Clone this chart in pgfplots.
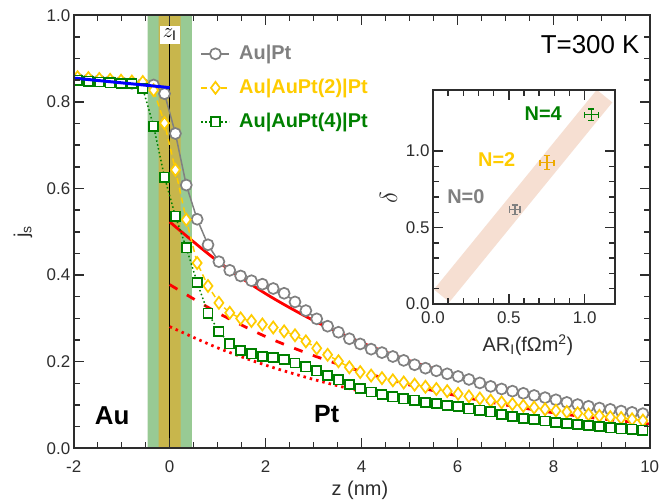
\documentclass[border=0pt]{standalone}
\usepackage{fontspec}
\setmainfont{Liberation Sans}
\usepackage{pgfplots}
\usepackage{pgfplotstable}
\pgfplotsset{compat=1.18}
\usetikzlibrary{calc}

\definecolor{cgrey}{RGB}{128,128,128}
\definecolor{cgold}{RGB}{255,204,0}
\definecolor{cgreen}{RGB}{0,128,0}
\definecolor{corange}{RGB}{238,170,0}
\definecolor{bandgreen}{RGB}{152,202,148}
\definecolor{bandolive}{RGB}{200,182,76}
\definecolor{peach}{RGB}{246,223,210}
\definecolor{axisgrey}{RGB}{45,45,45}

% spin current profiles, one row per atomic layer
\pgfplotstableread{
z      grey   yellow green
-1.920 0.853  0.857  0.850
-1.694 0.851  0.855  0.848
-1.467 0.849  0.853  0.846
-1.241 0.847  0.851  0.844
-1.014 0.845  0.849  0.843
-0.788 0.843  0.847  0.842
-0.561 0.841  0.846  0.831
-0.335 0.839  0.827  0.744
-0.108 0.819  0.751  0.626
0.119  0.727  0.643  0.536
0.345  0.608  0.528  0.463
0.572  0.529  0.428  0.383
0.798  0.470  0.375  0.312
1.025  0.431  0.336  0.270
1.251  0.411  0.313  0.241
1.478  0.398  0.300  0.226
1.704  0.387  0.294  0.218
1.931  0.379  0.286  0.212
2.157  0.369  0.279  0.210
2.384  0.358  0.270  0.205
2.610  0.338  0.261  0.197
2.837  0.318  0.247  0.188
3.063  0.299  0.231  0.179
3.290  0.282  0.216  0.168
3.516  0.268  0.201  0.158
3.743  0.253  0.187  0.147
3.969  0.241  0.176  0.138
4.196  0.229  0.168  0.130
4.422  0.221  0.162  0.124
4.649  0.212  0.157  0.119
4.875  0.203  0.152  0.114
5.102  0.193  0.147  0.111
5.328  0.185  0.142  0.106
5.555  0.179  0.137  0.103
5.781  0.172  0.132  0.099
6.008  0.166  0.126  0.096
6.234  0.159  0.120  0.091
6.461  0.151  0.115  0.088
6.687  0.143  0.110  0.084
6.914  0.137  0.106  0.078
7.140  0.132  0.102  0.073
7.367  0.127  0.098  0.069
7.593  0.122  0.094  0.066
7.820  0.117  0.090  0.063
8.046  0.112  0.087  0.060
8.273  0.106  0.084  0.057
8.499  0.101  0.081  0.055
8.726  0.097  0.078  0.053
8.952  0.093  0.075  0.050
9.179  0.090  0.072  0.047
9.405  0.086  0.070  0.045
9.632  0.083  0.067  0.044
9.858  0.080  0.064  0.042
}\profiles

\begin{document}
\begin{tikzpicture}
\begin{axis}[
    name=main,
    scale only axis,
    width=576bp, height=433bp,
    xmin=-2, xmax=10, ymin=0, ymax=1,
    xtick={-2,0,...,10}, ytick={0,0.2,...,1},
    minor x tick num=3, minor y tick num=3,
    clip marker paths=true,
    /pgf/number format/assume math mode=true,
    yticklabel style={/pgf/number format/fixed, /pgf/number format/fixed zerofill, /pgf/number format/precision=1},
    tick label style={font=\fontsize{17}{17}\selectfont, color=axisgrey},
    xticklabel style={yshift=-9bp},
    axis line style={line width=1.8bp, axisgrey},
    tick style={line width=1.5bp, axisgrey},
    major tick length=10bp, minor tick length=6bp,
    axis on top,
    xlabel={z (nm)}, ylabel={j\textsubscript{s}},
    label style={font=\fontsize{20}{20}\selectfont, color=axisgrey},
    xlabel style={at={(axis description cs:0.497,-0.110)}, anchor=base},
    ylabel style={at={(axis description cs:-0.088,0.5)}, anchor=center},
    legend style={at={(axis description cs:0.215,0.938)}, anchor=north west, draw=none, fill=none,
        font=\bfseries\fontsize{20}{20}\selectfont, row sep=15bp,
        nodes={inner sep=0pt, text height=15bp, text depth=4bp},
        /tikz/every odd column/.append style={column sep=9bp}},
    legend cell align=left,
    legend image code/.code={\draw[mark repeat=2, mark phase=2, #1] plot coordinates {(0bp,0bp) (14bp,0bp) (28bp,0bp)};},
  ]
  % interface region
  \addplot[fill=bandgreen, draw=none, forget plot] coordinates {(-0.46,0) (-0.46,1) (0.46,1) (0.46,0)} \closedcycle;
  \addplot[fill=bandolive, draw=none, forget plot] coordinates {(-0.23,0) (-0.23,1) (0.23,1) (0.23,0)} \closedcycle;
  \addplot[black, line width=1.3bp, forget plot] coordinates {(0,0) (0,1)};

  % exponential fits in Pt
  \addplot[red, line width=2.8bp, smooth, forget plot] coordinates {
    (0,0.523) (1,0.432) (2,0.357) (3,0.295) (4,0.244) (5,0.202) (6,0.167) (7,0.138) (8,0.114) (9,0.094) (10,0.078)};
  \addplot[red, line width=2.8bp, smooth, dash pattern=on 9bp off 11bp, forget plot] coordinates {
    (0,0.378) (1,0.313) (2,0.258) (3,0.214) (4,0.177) (5,0.146) (6,0.121) (7,0.100) (8,0.082) (9,0.068) (10,0.056)};
  \addplot[red, line width=2.8bp, smooth, dash pattern=on 2.5bp off 4bp, forget plot] coordinates {
    (0,0.281) (1,0.232) (2,0.192) (3,0.159) (4,0.131) (5,0.109) (6,0.090) (7,0.074) (8,0.061) (9,0.051) (10,0.042)};

  \addplot[cgrey, line width=1.5bp, mark=*, mark size=5.5bp, mark options={fill=white, line width=1.7bp, solid}]
    table[x=z, y=grey] {\profiles};
  \addlegendentry{\textcolor{cgrey}{Au|Pt}}
  \addplot[cgold, line width=1.5bp, dash pattern=on 6bp off 4bp, mark=diamond*, mark size=6bp, mark options={fill=white, line width=1.7bp, solid}]
    table[x=z, y=yellow] {\profiles};
  \addlegendentry{\textcolor{cgold}{Au|AuPt(2)|Pt}}
  \addplot[cgreen, line width=1.5bp, dash pattern=on 1.5bp off 2.5bp, mark=square*, mark size=4.6bp, mark options={fill=white, line width=1.7bp, solid}]
    table[x=z, y=green] {\profiles};
  \addlegendentry{\textcolor{cgreen}{Au|AuPt(4)|Pt}}

  % fit in Au
  \addplot[blue, line width=3bp, forget plot] coordinates {(-2,0.855) (0,0.833)};

  \node[fill=white, inner sep=3bp, font=\fontsize{20}{20}\selectfont] at (axis cs:0,0.955) {$z_{\mathrm{I}}$};
  \node[font=\bfseries\fontsize{26}{26}\selectfont] at (axis cs:-1.2,0.076) {Au};
  \node[font=\bfseries\fontsize{25}{25}\selectfont] at (axis cs:3.27,0.080) {Pt};
  \node[font=\fontsize{26}{26}\selectfont] at (axis cs:8.76,0.933) {T=300 K};
\end{axis}

\begin{axis}[
    name=inset,
    at={(main.south west)}, xshift=359.3bp, yshift=144.3bp, anchor=south west,
    scale only axis,
    width=182bp, height=214bp,
    xmin=0, xmax=1.2, ymin=0, ymax=1.4,
    xtick={0,0.5,1}, ytick={0,0.5,1},
    minor x tick num=4, minor y tick num=4,
    axis background/.style={fill=white},
    /pgf/number format/assume math mode=true,
    ticklabel style={/pgf/number format/fixed, /pgf/number format/fixed zerofill, /pgf/number format/precision=1},
    tick label style={font=\fontsize{17}{17}\selectfont, color=axisgrey},
    xticklabel style={yshift=-4bp},
    axis line style={line width=1.8bp, axisgrey},
    tick style={line width=1.5bp, axisgrey},
    major tick length=10bp, minor tick length=6bp,
    axis on top,
    unbounded coords=jump,
    xlabel={AR\textsubscript{I}(fΩm\textsuperscript{2})}, ylabel={$\delta$},
    xlabel style={at={(axis description cs:0.522,-0.222)}, anchor=base, font=\fontsize{20}{20}\selectfont, color=axisgrey},
    ylabel style={at={(axis description cs:-0.245,0.495)}, anchor=center, font=\fontsize{26}{26}\selectfont, color=axisgrey},
  ]
  \addplot[peach, line width=20bp, forget plot] coordinates {(0.057,0.054) (1.131,1.36)};

  % error crosses: AR_I +- dAR, delta +- ddelta, with end caps
  \addplot[cgrey, line width=1.5bp] coordinates {
    (0.503,0.618) (0.575,0.618) (nan,nan)
    (0.503,0.598) (0.503,0.638) (nan,nan) (0.575,0.598) (0.575,0.638) (nan,nan)
    (0.539,0.587) (0.539,0.649) (nan,nan)
    (0.519,0.587) (0.559,0.587) (nan,nan) (0.519,0.649) (0.559,0.649)};
  \addplot[corange, line width=1.5bp] coordinates {
    (0.707,0.925) (0.797,0.925) (nan,nan)
    (0.707,0.905) (0.707,0.945) (nan,nan) (0.797,0.905) (0.797,0.945) (nan,nan)
    (0.752,0.879) (0.752,0.971) (nan,nan)
    (0.732,0.879) (0.772,0.879) (nan,nan) (0.732,0.971) (0.772,0.971)};
  \addplot[cgreen, line width=1.5bp] coordinates {
    (0.998,1.239) (1.090,1.239) (nan,nan)
    (0.998,1.219) (0.998,1.259) (nan,nan) (1.090,1.219) (1.090,1.259) (nan,nan)
    (1.044,1.201) (1.044,1.277) (nan,nan)
    (1.024,1.201) (1.064,1.201) (nan,nan) (1.024,1.277) (1.064,1.277)};

  \node[font=\bfseries\fontsize{20}{20}\selectfont, text=cgrey] at (axis cs:0.217,0.70) {N=0};
  \node[font=\bfseries\fontsize{20}{20}\selectfont, text=cgold] at (axis cs:0.42,0.944) {N=2};
  \node[font=\bfseries\fontsize{20}{20}\selectfont, text=cgreen] at (axis cs:0.727,1.247) {N=4};
\end{axis}

\pgfresetboundingbox
\path ($(main.south west)+(-73.7bp,-55.7bp)$) rectangle ++(660bp,504bp);
\end{tikzpicture}
\end{document}
